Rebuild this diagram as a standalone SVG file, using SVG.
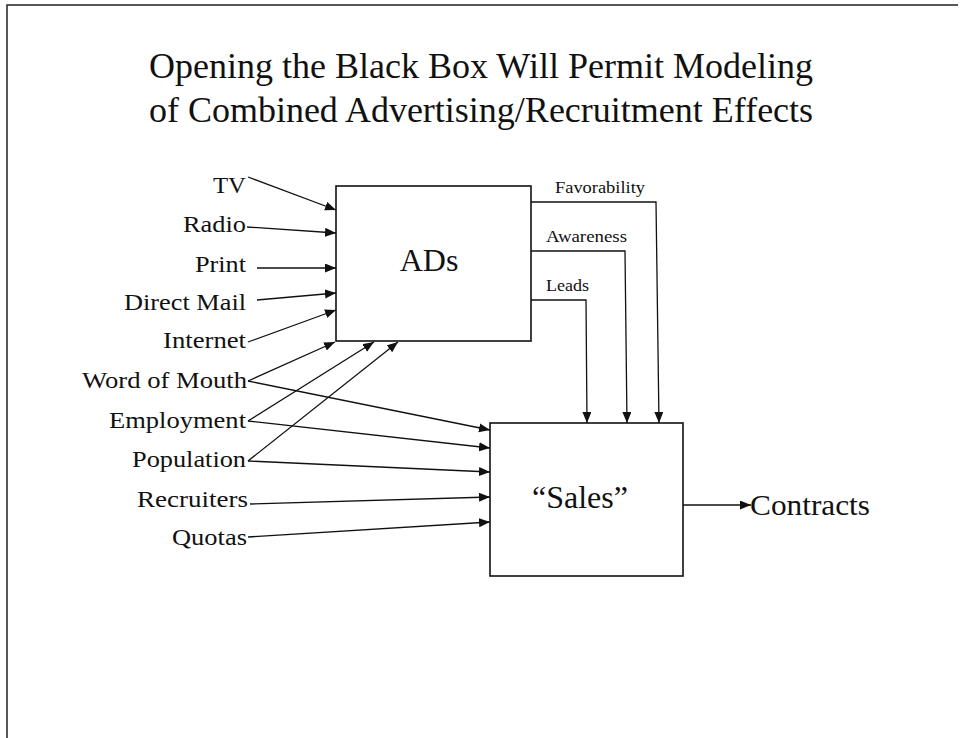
<svg xmlns="http://www.w3.org/2000/svg" width="962" height="738" viewBox="0 0 962 738">
  <style>
    .frame { fill: none; stroke: #222; stroke-width: 1.5; }
    .box { fill: #fff; stroke: #111; stroke-width: 1.6; }
    .title { font-family: "Liberation Serif", "Times New Roman", serif; font-size: 36px; fill: #111; text-anchor: middle; }
    .src { font-family: "Liberation Serif", "Times New Roman", serif; font-size: 24px; fill: #111; text-anchor: end; }
    .big { font-family: "Liberation Serif", "Times New Roman", serif; font-size: 32px; fill: #111; text-anchor: middle; }
    .out { font-family: "Liberation Serif", "Times New Roman", serif; font-size: 29px; fill: #111; }
    .small { font-family: "Liberation Serif", "Times New Roman", serif; font-size: 17px; fill: #111; }
    .link { fill: none; stroke: #111; stroke-width: 1.3; marker-end: url(#arrow); }
  </style>
  <defs>
    <marker id="arrow" markerUnits="userSpaceOnUse" markerWidth="12" markerHeight="10" refX="11" refY="4.5" orient="auto">
      <path d="M0,0 L11,4.5 L0,9 Z" fill="#111"/>
    </marker>
  </defs>

  <!-- page frame -->
  <path class="frame" d="M958,5 H7 V738"/>

  <!-- heading -->
  <g id="heading">
    <text class="title" x="481" y="78">Opening the Black Box Will Permit Modeling</text>
    <text class="title" x="481" y="122">of Combined Advertising/Recruitment Effects</text>
  </g>

  <!-- input factors -->
  <g id="in-tv"><text class="src" x="246" y="193" textLength="33" lengthAdjust="spacingAndGlyphs">TV</text></g>
  <g id="in-radio"><text class="src" x="246" y="232" textLength="63" lengthAdjust="spacingAndGlyphs">Radio</text></g>
  <g id="in-print"><text class="src" x="246" y="272" textLength="51" lengthAdjust="spacingAndGlyphs">Print</text></g>
  <g id="in-directmail"><text class="src" x="246" y="310" textLength="122" lengthAdjust="spacingAndGlyphs">Direct Mail</text></g>
  <g id="in-internet"><text class="src" x="246" y="348" textLength="83" lengthAdjust="spacingAndGlyphs">Internet</text></g>
  <g id="in-wordofmouth"><text class="src" x="247" y="388" textLength="165" lengthAdjust="spacingAndGlyphs">Word of Mouth</text></g>
  <g id="in-employment"><text class="src" x="246" y="428" textLength="137" lengthAdjust="spacingAndGlyphs">Employment</text></g>
  <g id="in-population"><text class="src" x="246" y="467" textLength="114" lengthAdjust="spacingAndGlyphs">Population</text></g>
  <g id="in-recruiters"><text class="src" x="248" y="507" textLength="111" lengthAdjust="spacingAndGlyphs">Recruiters</text></g>
  <g id="in-quotas"><text class="src" x="247" y="545" textLength="75" lengthAdjust="spacingAndGlyphs">Quotas</text></g>

  <!-- process blocks -->
  <g id="ads">
    <rect class="box" x="336" y="186" width="195" height="155"/>
    <text class="big" x="429" y="271">ADs</text>
  </g>
  <g id="sales">
    <rect class="box" x="490" y="423" width="193" height="153"/>
    <text class="big" x="580" y="508">“Sales”</text>
  </g>
  <g id="contracts">
    <text class="out" x="750" y="515" textLength="120" lengthAdjust="spacingAndGlyphs">Contracts</text>
  </g>

  <!-- connectors -->
  <g id="connectors">
    <!-- media into ADs -->
    <line class="link" x1="248" y1="177" x2="336" y2="210"/>
    <line class="link" x1="247" y1="227" x2="336" y2="233"/>
    <line class="link" x1="257" y1="268" x2="336" y2="268"/>
    <line class="link" x1="257" y1="300" x2="336" y2="293"/>
    <line class="link" x1="248" y1="342" x2="336" y2="310"/>
    <!-- environment into ADs -->
    <line class="link" x1="248" y1="381" x2="335" y2="342"/>
    <line class="link" x1="248" y1="421" x2="374" y2="342"/>
    <line class="link" x1="248" y1="461" x2="398" y2="342"/>
    <!-- environment into Sales -->
    <line class="link" x1="248" y1="381" x2="490" y2="430"/>
    <line class="link" x1="248" y1="421" x2="490" y2="448"/>
    <line class="link" x1="248" y1="461" x2="490" y2="472"/>
    <line class="link" x1="250" y1="504" x2="490" y2="497"/>
    <line class="link" x1="248" y1="537" x2="490" y2="522"/>
    <!-- ADs outcomes into Sales -->
    <path class="link" d="M531,202 H656 L659,423"/>
    <path class="link" d="M531,251 H625 L627,423"/>
    <path class="link" d="M531,300 H586 L587,423"/>
    <!-- Sales output -->
    <line class="link" x1="683" y1="505" x2="751" y2="505"/>
    <text class="small" x="555" y="193" textLength="90" lengthAdjust="spacingAndGlyphs">Favorability</text>
    <text class="small" x="546" y="242" textLength="81" lengthAdjust="spacingAndGlyphs">Awareness</text>
    <text class="small" x="546" y="291" textLength="43" lengthAdjust="spacingAndGlyphs">Leads</text>
  </g>
</svg>
